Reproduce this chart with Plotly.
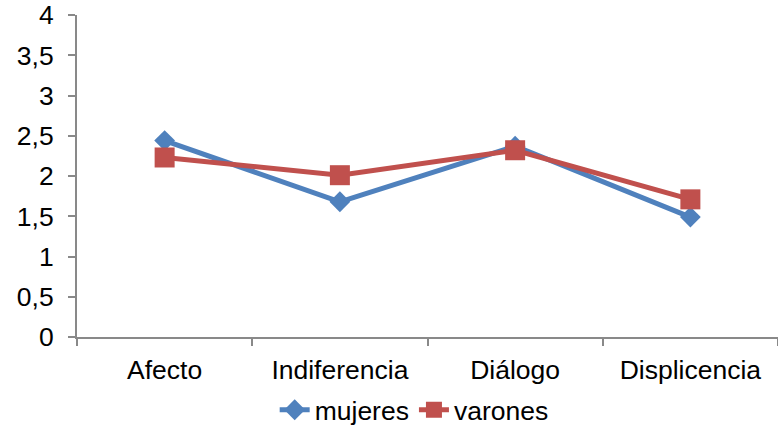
import plotly.graph_objects as go

categories = ["Afecto", "Indiferencia", "Diálogo", "Displicencia"]
mujeres = [2.44, 1.68, 2.37, 1.49]
varones = [2.23, 2.01, 2.32, 1.71]
y_ticks = [0, 0.5, 1, 1.5, 2, 2.5, 3, 3.5, 4]
y_tick_labels = ["0", "0,5", "1", "1,5", "2", "2,5", "3", "3,5", "4"]

BLUE = "#4F81BD"
RED = "#C0504D"
AXIS = "#898989"
FONT = "Liberation Sans, Arial, sans-serif"

fig = go.Figure()
fig.add_trace(go.Scatter(
    x=categories, y=mujeres, name="mujeres", mode="lines+markers",
    line=dict(color=BLUE, width=5),
    marker=dict(symbol="diamond", size=16, color=BLUE),
))
fig.add_trace(go.Scatter(
    x=categories, y=varones, name="varones", mode="lines+markers",
    line=dict(color=RED, width=5),
    marker=dict(symbol="square", size=20, color=RED),
))

fig.update_layout(
    width=778, height=434,
    margin=dict(l=77, r=0, t=15, b=96),
    paper_bgcolor="white", plot_bgcolor="white",
    font=dict(family=FONT, size=26.5, color="black"),
    showlegend=True,
    legend=dict(
        orientation="h", x=0.481, xanchor="center", y=-0.228, yanchor="middle",
        font=dict(size=26.5), itemwidth=30, tracegroupgap=0,
    ),
)
fig.update_xaxes(
    type="category", range=[-0.5, 3.5],
    showline=True, linecolor=AXIS, linewidth=2,
    ticks="outside", tickson="boundaries", ticklen=7, tickcolor=AXIS, tickwidth=2,
    ticklabelstandoff=8,
    showgrid=False, zeroline=False,
)
fig.update_yaxes(
    range=[0, 4], tickvals=y_ticks, ticktext=y_tick_labels,
    showline=True, linecolor=AXIS, linewidth=2,
    ticks="outside", ticklen=7, tickcolor=AXIS, tickwidth=2,
    ticklabelstandoff=9,
    showgrid=False, zeroline=False,
)

fig.write_html("out.html")
